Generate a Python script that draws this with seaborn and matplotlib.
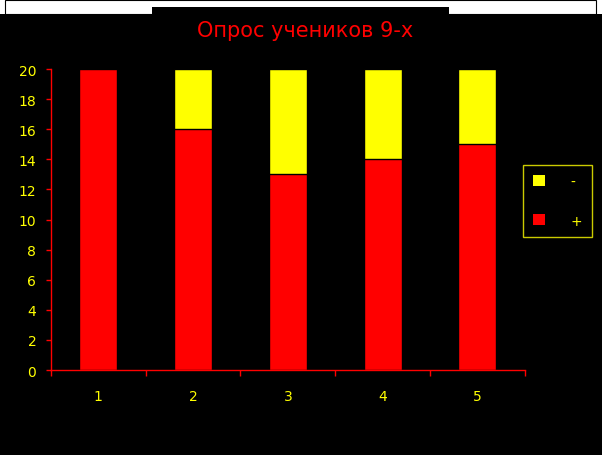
import pandas as pd
import matplotlib.pyplot as plt
import seaborn as sns
from matplotlib.patches import Patch, Rectangle

# DATA
groups = ["1", "2", "3", "4", "5"]
plus_votes = [20, 16, 13, 14, 15]
minus_votes = [0, 4, 7, 6, 5]
yticks = list(range(0, 21, 2))

df = pd.DataFrame({"group": groups, "plus": plus_votes, "minus": minus_votes})
df["total"] = df["plus"] + df["minus"]

sns.set_style("dark")
plt.rcParams["font.family"] = ["DejaVu Sans"]

YELLOW = "#FFFF00"
RED = "#FF0000"

fig = plt.figure(figsize=(6.02, 4.56), dpi=100, facecolor="black")
ax = fig.add_axes([0.0847, 0.1864, 0.787, 0.660])
ax.set_facecolor("black")

# stacked bars: total (yellow) behind, plus (red) in front
sns.barplot(data=df, x="group", y="total", color=YELLOW, saturation=1,
            width=0.4, edgecolor="black", linewidth=1, ax=ax)
sns.barplot(data=df, x="group", y="plus", color=RED, saturation=1,
            width=0.4, edgecolor="black", linewidth=1, ax=ax)

ax.set_xlim(-0.5, len(groups) - 0.5)
ax.set_ylim(0, 20)
ax.set_yticks(yticks)
ax.set_xlabel("")
ax.set_ylabel("")
ax.grid(False)

for side in ["top", "right"]:
    ax.spines[side].set_visible(False)
for side in ["left", "bottom"]:
    ax.spines[side].set_color(RED)
    ax.spines[side].set_linewidth(1)

ax.tick_params(axis="y", colors=RED, labelcolor=YELLOW, length=3.6, width=1,
               direction="out", pad=7, labelsize=10, left=True)
ax.tick_params(axis="x", which="major", length=0, labelcolor=YELLOW,
               pad=14, labelsize=10, bottom=True)
ax.set_xticks([i - 0.5 for i in range(len(groups) + 1)], minor=True)
ax.tick_params(axis="x", which="minor", colors=RED, length=4, width=1,
               direction="out", bottom=True)

fig.suptitle("Опрос учеников 9-х", color=RED, fontsize=15,
             x=0.507, y=1 - 31 / 456, va="center")

handles = [Patch(facecolor=YELLOW, edgecolor="none"),
           Patch(facecolor=RED, edgecolor="none")]
leg = fig.legend(handles, ["-", "+"], loc="center",
                 bbox_to_anchor=(0.926, 0.557), bbox_transform=fig.transFigure,
                 frameon=True, fancybox=False, facecolor="black",
                 edgecolor=YELLOW, labelcolor=YELLOW, fontsize=10,
                 handlelength=0.9, handleheight=0.9, handletextpad=1.8,
                 labelspacing=1.8, borderpad=0.7, borderaxespad=0)
leg.get_frame().set_linewidth(1)

# white strip along the top edge with the black title tab
fig.patches.append(Rectangle((0, 1 - 15 / 456), 1, 15 / 456, transform=fig.transFigure,
                             facecolor="white", edgecolor="none", zorder=0))
fig.patches.append(Rectangle((5 / 602, 1 - 15 / 456), 591 / 602, 14 / 456,
                             transform=fig.transFigure, facecolor="none",
                             edgecolor="black", linewidth=0.8, zorder=1))
fig.patches.append(Rectangle((152 / 602, 1 - 15 / 456), 297 / 602, 7 / 456,
                             transform=fig.transFigure, facecolor="black",
                             edgecolor="none", zorder=2))

fig.savefig("out.png", dpi=100, facecolor="black")
